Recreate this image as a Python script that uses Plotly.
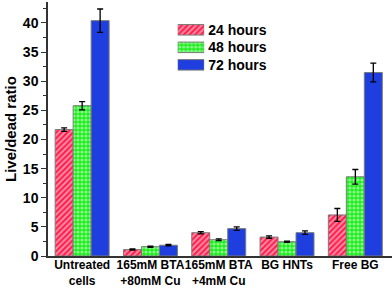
import plotly.graph_objects as go

CATEGORIES = ["Untreated<br>cells", "165mM BTA<br>+80mM Cu", "165mM BTA<br>+4mM Cu", "BG HNTs", "Free BG"]
SERIES = ["24 hours", "48 hours", "72 hours"]
VALUES_24H = [21.7, 1.1, 4.0, 3.25, 7.05]
VALUES_48H = [25.8, 1.6, 2.8, 2.45, 13.6]
VALUES_72H = [40.4, 1.85, 4.7, 4.0, 31.5]
ERR_24H = [0.3, 0.1, 0.2, 0.2, 1.1]
ERR_48H = [0.7, 0.1, 0.15, 0.12, 1.25]
ERR_72H = [2.0, 0.12, 0.3, 0.3, 1.6]
SWATCH = [1, 1, 1]

FONT = "Arial, 'Liberation Sans', sans-serif"
OUTLINE = "#7a7a7a"
STYLES = [
    dict(color="#ff1a4a", pattern=dict(shape="/", fgcolor="white", bgcolor="#ff1a4a", size=4, solidity=0.5)),
    dict(color="#1aee1a", pattern=dict(shape=".", fgcolor="white", bgcolor="#1aee1a", size=4, solidity=0.5)),
    dict(color="#1e3ee0"),
]
VALUES = [VALUES_24H, VALUES_48H, VALUES_72H]
ERRS = [ERR_24H, ERR_48H, ERR_72H]

fig = go.Figure()
for name, vals, errs, st in zip(SERIES, VALUES, ERRS, STYLES):
    fig.add_trace(go.Bar(
        x=CATEGORIES, y=vals, name=name, showlegend=False,
        marker=dict(line=dict(color=OUTLINE, width=1), **st),
        error_y=dict(type="data", array=errs, visible=True, color="black", thickness=1.3, width=3),
    ))

# legend swatches drawn on a small hidden axis pair
for name, st in zip(SERIES, STYLES):
    fig.add_trace(go.Bar(
        x=[SWATCH[0]], y=[name], orientation="h", xaxis="x2", yaxis="y2",
        width=0.6, offset=-0.3,
        showlegend=False, hoverinfo="skip",
        marker=dict(line=dict(color=OUTLINE, width=1), **st),
    ))

fig.update_layout(
    width=392, height=288,
    margin=dict(l=48, r=0, t=2, b=32),
    paper_bgcolor="white", plot_bgcolor="white",
    barmode="group", bargap=0.21, bargroupgap=0,
    font=dict(family=FONT, color="black"),
    xaxis=dict(
        range=[-0.5, 4.537], showline=True, linecolor="#333", linewidth=1.5,
        ticks="", showgrid=False, zeroline=False, tickangle=0, automargin=False,
        tickfont=dict(size=12, family=FONT, weight="bold"), ticklabelstandoff=-3,
    ),
    yaxis=dict(
        range=[0, 43.6], dtick=5, showline=True, linecolor="#333", linewidth=1.5,
        ticks="outside", ticklen=5, tickwidth=1.3, tickcolor="#333", automargin=False,
        minor=dict(ticks="outside", ticklen=3, dtick=2.5, tickcolor="#333", tickwidth=1),
        showgrid=False, zeroline=False,
        tickfont=dict(size=14, family=FONT, weight="bold"),
    ),
    xaxis2=dict(domain=[0.377, 0.454], range=[0, 1], visible=False, anchor="y2"),
    yaxis2=dict(
        domain=[0.718, 0.925], anchor="x2", side="right", autorange="reversed",
        tickmode="array", tickvals=SERIES, ticktext=SERIES, automargin=False,
        showline=False, ticks="", showgrid=False, zeroline=False,
        tickfont=dict(size=14, family=FONT, weight="bold"), ticklabelstandoff=3,
    ),
    annotations=[dict(
        text="<b>Live/dead ratio</b>", textangle=-90, xref="paper", yref="paper",
        x=-0.1105, y=0.5, xanchor="center", yanchor="middle", showarrow=False,
        font=dict(size=15, family=FONT),
    )],
)
fig.write_html(
    "out.html",
    config={"displayModeBar": False},
    post_script="document.body.style.margin='0';document.body.style.padding='0';document.body.style.overflow='hidden';",
)
